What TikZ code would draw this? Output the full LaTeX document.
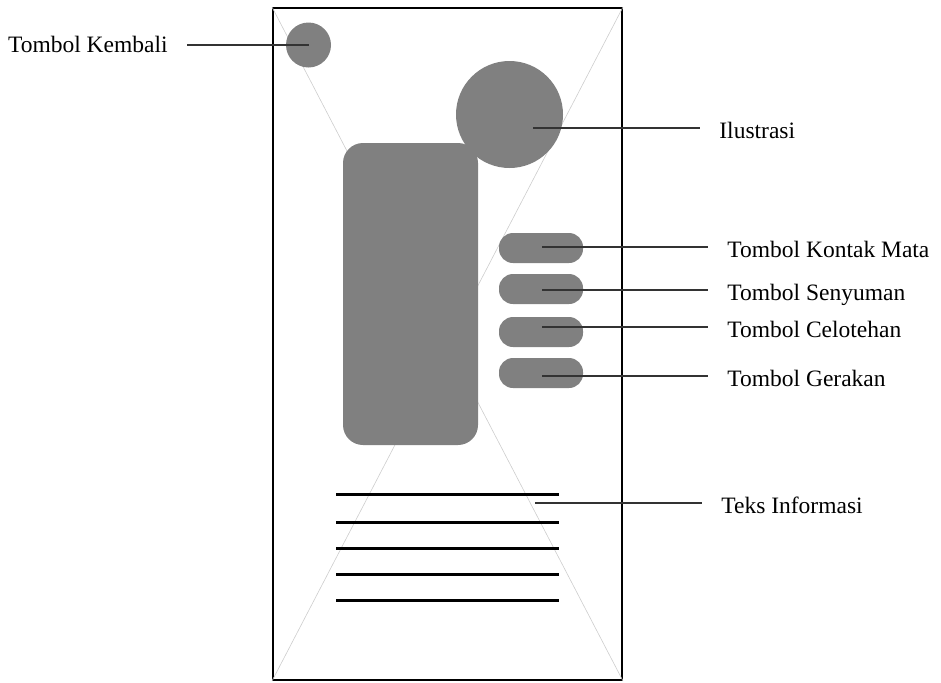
\documentclass[tikz,border=0pt]{standalone}
\usepackage{fontspec}
\setmainfont{Liberation Serif}
\definecolor{widgetgray}{RGB}{128,128,128}
\definecolor{leadergray}{RGB}{51,51,51}
\definecolor{crossgray}{RGB}{205,205,205}

\begin{document}
\begin{tikzpicture}[x=0.5pt, y=-0.5pt]
            \tikzstyle{every node} = [font=\fontsize{11.75pt}{14pt}\selectfont]
            \tikzstyle{widget} = [fill=widgetgray, draw=none, inner sep=0pt]
            \tikzstyle{button} = [widget, rectangle, rounded corners=7pt, minimum width=42pt, minimum height=15pt]
            \tikzstyle{callout} = [inner xsep=9.5pt, inner ysep=0pt]
            \tikzstyle{leader} = [draw=leadergray, line width=0.75pt]
            \useasboundingbox (0,0) rectangle (941,682);

            % layar ponsel
            \node[draw, line width=1pt, inner sep=0pt, minimum width=174.5pt, minimum height=336pt] (screen) at (447.5,344) {};
            \draw[crossgray, line width=0.3pt] (screen.north west) -- (screen.south east);
            \draw[crossgray, line width=0.3pt] (screen.north east) -- (screen.south west);

            \node[widget, circle, minimum size=22.5pt] (kembali) at (308.5,45) {};
            \node[widget, circle, minimum size=53.5pt] (ilustrasi) at (509.5,114.5) {};
            \node[widget, rectangle, rounded corners=10pt, minimum width=67.5pt, minimum height=151pt] (konten) at (410.5,294) {};

            \foreach \y in {494,522,548.5,574.5,600}
                \draw[line width=1.5pt] (336,\y) -- (559,\y);

            % keterangan
            \node[callout, anchor=base east] (lblKembali) at (187,52) {Tombol Kembali};
            \draw[leader] (kembali.center) -- (kembali.center -| lblKembali.east);

            \coordinate (ptIlustrasi) at (533,128);
            \node[callout, anchor=base west] (lblIlustrasi) at (700,138) {Ilustrasi};
            \draw[leader] (ptIlustrasi) -- (ptIlustrasi -| lblIlustrasi.west);

            \foreach \btn/\by/\ly/\txt in {kontak/248/247/Tombol Kontak Mata,
                    senyum/289/290/Tombol Senyuman,
                    celoteh/332/327/Tombol Celotehan,
                    gerak/373/376/Tombol Gerakan} {
                \node[button] (\btn) at (541,\by) {};
                \coordinate (pt\btn) at (542,\ly);
                \node[callout, anchor=base west] (lbl\btn) at (708,\ly+10) {\txt};
                \draw[leader] (pt\btn) -- (pt\btn -| lbl\btn.west);
            }

            \coordinate (ptInfo) at (535,503);
            \node[callout, anchor=base west] (lblInfo) at (702,513) {Teks Informasi};
            \draw[leader] (ptInfo) -- (ptInfo -| lblInfo.west);
        \end{tikzpicture}
\end{document}
